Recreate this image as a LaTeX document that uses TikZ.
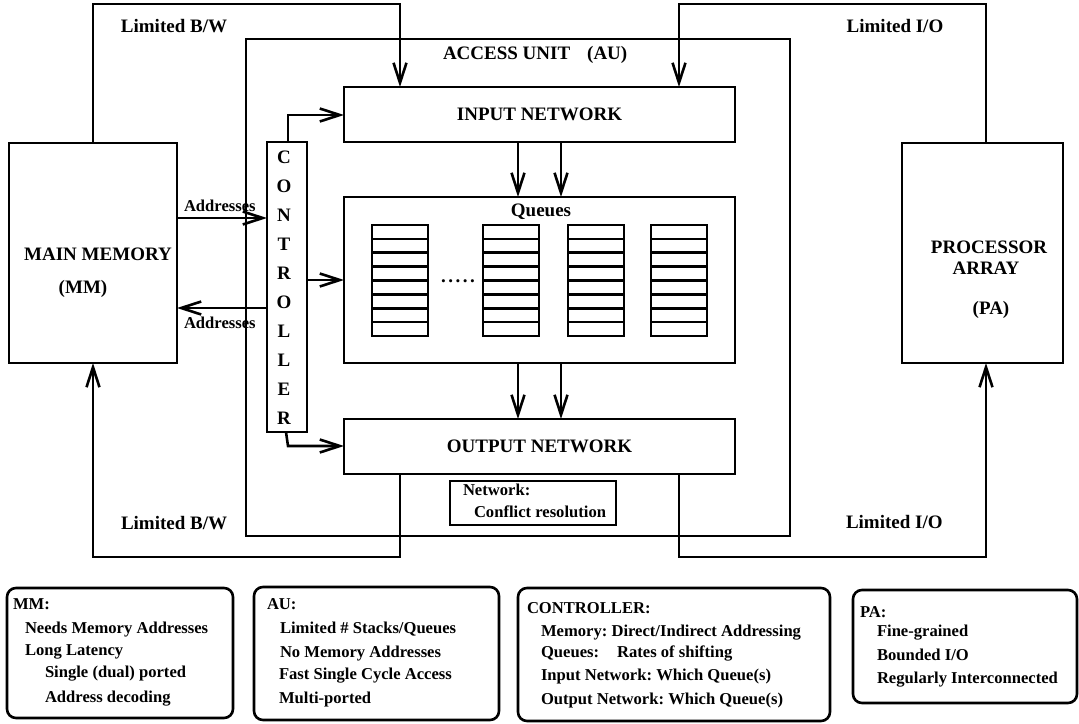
\documentclass[tikz,border=0pt]{standalone}
\usepackage{fontspec}
\setmainfont{Liberation Serif}
\usetikzlibrary{arrows.meta}
\frenchspacing

% rectangle node given by its corners: [options]{name}{x1}{y1}{x2}{y2}
\newcommand\placebox[6][]{%
  \node[box,#1,minimum width={#5-#3},minimum height={#6-#4}] (#2) at ({(#3+#5)/2},{(#4+#6)/2}) {};}

\begin{document}
\begin{tikzpicture}[x=1pt,y=-1pt,line width=2.6pt,
  box/.style={draw,rectangle,inner sep=0pt,outer sep=0pt},
  note/.style={rounded corners=9pt},
  arr/.style={-{Straight Barb[length=20pt,width=13pt]}},
  lbl/.style={inner sep=0pt,outer sep=0pt},
  big/.style={lbl,font=\fontsize{19}{22}\selectfont\bfseries},
  small/.style={lbl,font=\fontsize{16.6}{20}\selectfont\bfseries}]
\useasboundingbox (0,0) rectangle (1079,723);

% main blocks
\placebox{au}{246}{39}{790}{536}
\placebox{mm}{9}{143}{177}{363}
\placebox{pa}{902}{143}{1063}{363}
\placebox{innet}{344}{87}{735}{142}
\placebox{queues}{344}{197}{735}{363}
\placebox{outnet}{344}{419}{735}{474}
\placebox{ctl}{267}{142}{307}{432}
\placebox{conf}{450}{481}{616}{525}

% queue stacks, eight cells each
\foreach \x [count=\k] in {372,483,568,651} {
  \placebox{stack\k}{\x}{225}{\x+56}{336}
  \foreach \j in {1,...,7}
    \draw (\x,{225+\j*111/8}) -- (\x+56,{225+\j*111/8});
}
\node[big,anchor=base] (dots) at (458,282) {.\kern2.5pt.\kern2.5pt.\kern2.5pt.\kern2.5pt.};

% labels of the blocks
\node[big,anchor=base] (bwtop) at (174,32) {Limited B/W};
\node[big,anchor=base] (iotop) at (895,32) {Limited I/O};
\node[big,anchor=base west] (autitle) at (443,59) {ACCESS UNIT\hspace{17pt}(AU)};
\node[big] (intitle) at (innet.center) {INPUT NETWORK};
\node[big] (outtitle) at (outnet.center) {OUTPUT NETWORK};
\node[big,anchor=base] (qtitle) at (541,216) {Queues};
\node[big,anchor=base] (mm1) at (98,260) {MAIN MEMORY};
\node[big,anchor=base] (mm2) at (83,293) {(MM)};
\node[big,anchor=base] (pa1) at (989,253) {PROCESSOR};
\node[big,anchor=base] (pa2) at (986,274) {ARRAY};
\node[big,anchor=base] (pa3) at (991,314) {(PA)};
\node[small,anchor=base west] (ad1) at (184,211) {Addresses};
\node[small,anchor=base west] (ad2) at (184,328) {Addresses};
\node[small,anchor=base west] (nw1) at (463,495) {Network:};
\node[small,anchor=base west] (nw2) at (474,517) {Conflict resolution};
\node[big,anchor=base west] (bwbot) at (121,529) {Limited B/W};
\node[big,anchor=base west] (iobot) at (846,528) {Limited I/O};

% controller, spelled downwards
\foreach \c [count=\i from 0] in {C,O,N,T,R,O,L,L,E,R}
  \node[big,anchor=base] (ctl-\i) at (284,{163+29.05*\i}) {\c};

% outer feedback paths
\coordinate (tl) at (93,4);  \coordinate (tm) at (400,4);
\coordinate (tr) at (986,4); \coordinate (tn) at (679,4);
\coordinate (bl) at (93,557);  \coordinate (bm) at (400,557);
\coordinate (br) at (986,557); \coordinate (bn) at (679,557);
\draw[arr] (tl |- mm.north) -- (tl) -- (tm) -- (tm |- innet.north);
\draw[arr] (tr |- pa.north) -- (tr) -- (tn) -- (tn |- innet.north);
\draw[arr] (bm |- outnet.south) -- (bm) -- (bl) -- (bl |- mm.south);
\draw[arr] (bn |- outnet.south) -- (bn) -- (br) -- (br |- pa.south);

% controller outputs
\coordinate (c1) at (288,115);
\coordinate (c2) at (307,280);
\coordinate (c3a) at (286,432); \coordinate (c3) at (288,446);
\draw[arr] (c1 |- ctl.north) -- (c1) -- (c1 -| innet.west);
\draw[arr] (ctl.east |- c2) -- (c2 -| queues.west);
\draw[arr] (c3a) -- (c3) -- (c3 -| outnet.west);

% address lines
\coordinate (a1) at (0,218); \coordinate (a2) at (0,308);
\draw[arr] (mm.east |- a1) -- (ctl.west |- a1);
\draw[arr] (ctl.west |- a2) -- (mm.east |- a2);

% network to queues to network
\coordinate (qa) at (518,0); \coordinate (qb) at (561,0);
\foreach \q in {qa,qb} {
  \draw[arr] (\q |- innet.south) -- (\q |- queues.north);
  \draw[arr] (\q |- queues.south) -- (\q |- outnet.north);
}

% notes
\placebox[note]{nmm}{7}{588}{233}{718}
\placebox[note]{nau}{254}{587}{499}{720}
\placebox[note]{nctl}{518}{588}{830}{721}
\placebox[note]{npa}{853}{590}{1077}{703}

\node[small,anchor=base west] (nmm1) at (13,609) {MM:};
\node[small,anchor=base west] (nmm2) at (25,633) {Needs Memory Addresses};
\node[small,anchor=base west] (nmm3) at (25,655) {Long Latency};
\node[small,anchor=base west] (nmm4) at (45,677) {Single (dual) ported};
\node[small,anchor=base west] (nmm5) at (45,702) {Address decoding};

\node[small,anchor=base west] (nau1) at (267,609) {AU:};
\node[small,anchor=base west] (nau2) at (280,633) {Limited \# Stacks/Queues};
\node[small,anchor=base west] (nau3) at (280,657) {No Memory Addresses};
\node[small,anchor=base west] (nau4) at (279,679) {Fast Single Cycle Access};
\node[small,anchor=base west] (nau5) at (279,703) {Multi-ported};

\node[small,anchor=base west] (nctl1) at (527,613) {CONTROLLER:};
\node[small,anchor=base west] (nctl2) at (541,636) {Memory: Direct/Indirect Addressing};
\node[small,anchor=base west] (nctl3) at (541,657) {Queues:\hspace{18pt}Rates of shifting};
\node[small,anchor=base west] (nctl4) at (541,680) {Input Network: Which Queue(s)};
\node[small,anchor=base west] (nctl5) at (541,704) {Output Network: Which Queue(s)};

\node[small,anchor=base west] (npa1) at (860,617) {PA:};
\node[small,anchor=base west] (npa2) at (877,636) {Fine-grained};
\node[small,anchor=base west] (npa3) at (877,660) {Bounded I/O};
\node[small,anchor=base west] (npa4) at (877,683) {Regularly Interconnected};
\end{tikzpicture}
\end{document}
